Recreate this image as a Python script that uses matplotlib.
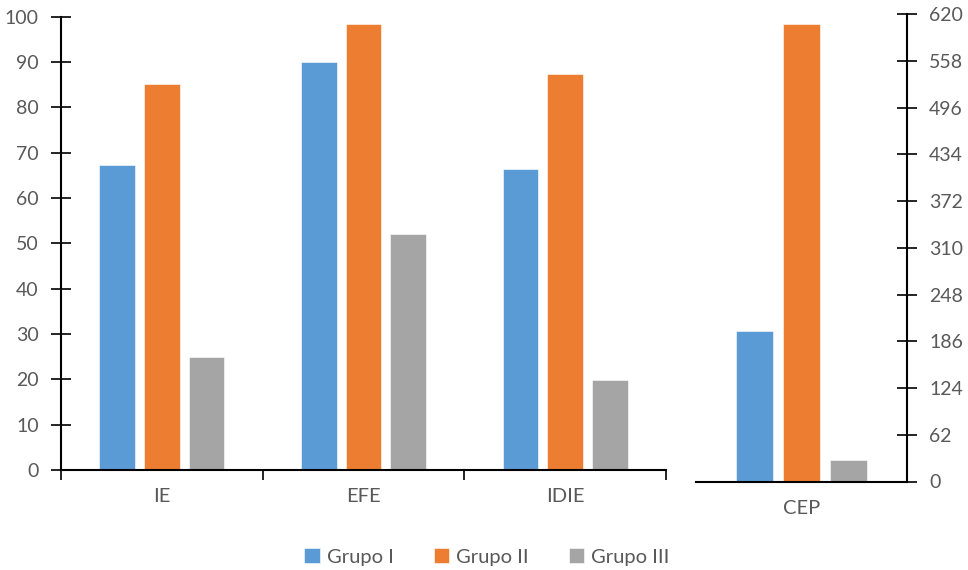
import numpy as np
import matplotlib.pyplot as plt

plt.rcParams['font.family'] = ['Lato', 'DejaVu Sans']

# data
categories = ['IE', 'EFE', 'IDIE']
grupo_1 = [67.3, 89.9, 66.5]
grupo_2 = [85.1, 98.4, 87.4]
grupo_3 = [25.0, 52.0, 19.9]

cep_category = ['CEP']
cep_1 = [200]
cep_2 = [607]
cep_3 = [29]

series_names = ['Grupo I', 'Grupo II', 'Grupo III']
colors = ['#5B9BD5', '#ED7D31', '#A5A5A5']
text_color = '#595959'

fig = plt.figure(figsize=(9.68, 5.7), dpi=100)
ax = fig.add_axes([61 / 968, 1 - 470 / 570, 605 / 968, 453.3 / 570])
ax2 = fig.add_axes([696 / 968, 1 - 481.5 / 570, 211 / 968, 467.2 / 570])

width = 0.177
step = 0.222


def draw_bars(axis, cats, values):
    x = np.arange(len(cats))
    bars = []
    for i, (vals, col) in enumerate(zip(values, colors)):
        b = axis.bar(x + (i - 1) * step, vals, width, color=col,
                     edgecolor='white', linewidth=0.4)
        bars.append(b)
    axis.set_xlim(-0.5, len(cats) - 0.5)
    # category labels in the middle, ticks on the boundaries
    axis.set_xticks(np.arange(len(cats) + 1) - 0.5)
    axis.set_xticklabels([])
    axis.set_xticks(x, minor=True)
    axis.set_xticklabels(cats, minor=True)
    axis.tick_params(axis='x', which='minor', length=0, pad=13,
                     labelsize=14.5, labelcolor=text_color)
    axis.tick_params(axis='y', direction='inout', length=14, width=1.2,
                     labelsize=14, labelcolor=text_color, pad=9)
    for s in axis.spines.values():
        s.set_linewidth(1.5)
    return bars


bars = draw_bars(ax, categories, [grupo_1, grupo_2, grupo_3])
ax.set_ylim(0, 100)
ax.set_yticks(np.arange(0, 101, 10))
ax.tick_params(axis='x', which='major', direction='out', length=7, width=1.2)
ax.spines['top'].set_visible(False)
ax.spines['right'].set_visible(False)

draw_bars(ax2, cep_category, [cep_1, cep_2, cep_3])
ax2.set_ylim(0, 620)
ax2.set_yticks(np.arange(0, 621, 62))
ax2.yaxis.tick_right()
ax2.tick_params(axis='x', which='major', length=0)
ax2.spines['top'].set_visible(False)
ax2.spines['left'].set_visible(False)

fig.legend(bars, series_names, loc='center', bbox_to_anchor=(0.503, 1 - 557 / 570),
           ncol=3, frameon=False, fontsize=14.5, labelcolor=text_color,
           handlelength=0.75, handleheight=0.75, handletextpad=0.35,
           columnspacing=2.0)

fig.savefig('out.png', dpi=100)
